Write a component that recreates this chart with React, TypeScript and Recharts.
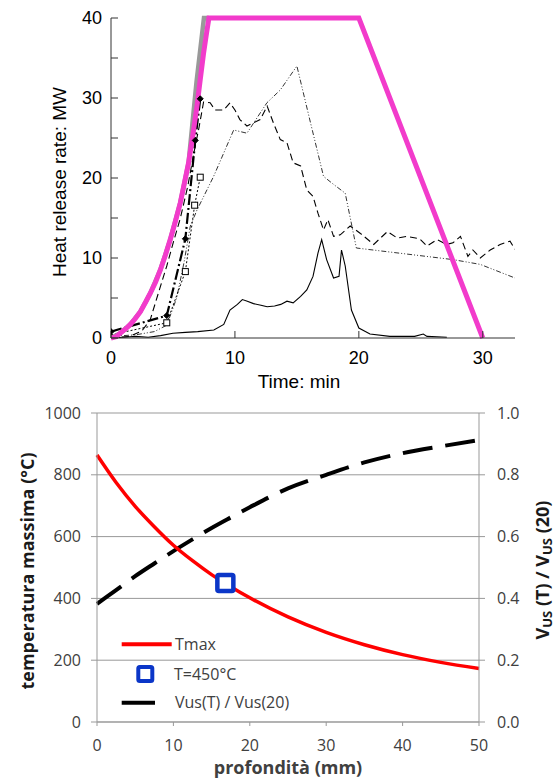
import React from 'react';
import { ComposedChart, LineChart, Line, XAxis, YAxis, CartesianGrid, Scatter, Legend, Label } from 'recharts';

// ---- top panel: heat release rate (MW) vs time (min)
const designTime = [0, 0.4, 0.75, 1.15, 1.56, 1.95, 2.37, 2.8, 3.17, 3.6, 3.98, 4.4, 4.78, 5.2, 5.59, 5.9, 6.26, 6.6, 6.94, 7.2, 7.47, 7.7, 7.9, 20, 30];
const designHrr = [0, 0.15, 0.6, 1.1, 1.7, 2.4, 3.3, 4.5, 5.6, 7, 8.5, 10.4, 12.3, 14.6, 16.9, 19.2, 21.9, 25.3, 29, 32.3, 35.6, 38, 40, 40, 0];

const greyTime = [0, 0.75, 1.56, 2.37, 3.17, 3.98, 4.78, 5.59, 6.26, 6.9, 7.5, 7.9];
const greyHrr = [0, 0.6, 1.7, 3.3, 5.6, 8.5, 12.3, 16.9, 21.9, 32, 40, 40];

const dashedTime = [0, 1.5, 2.5, 3.17, 3.8, 4.5, 5.0, 5.6, 6.2, 6.67, 7.1, 7.47, 8.0, 8.4, 9.1, 9.6, 10.0, 10.4, 10.97, 11.5, 12.04, 12.6, 13.1, 13.66, 14.2, 14.7, 15.3, 15.8, 16.3, 16.7, 17.15, 17.5, 17.96, 18.5, 19.3, 20.1, 21.2, 22.3, 23.1, 23.9, 24.9, 25.5, 26.3, 27.1, 27.6, 28.2, 28.8, 29.2, 29.8, 30.6, 31.4, 32.2, 32.6];
const dashedHrr = [0, 0.2, 0.9, 2.3, 5.5, 9, 11.8, 15, 19, 23, 26.3, 29.5, 29.4, 28.5, 28.5, 29.4, 28.5, 27.3, 26.5, 26.9, 27.3, 29, 26.9, 24.8, 24.4, 21.9, 21.5, 18.5, 17.7, 15.6, 13.5, 14.8, 12.7, 12.9, 14, 13.1, 11.7, 13.3, 12.5, 12.7, 12.4, 11.5, 12.3, 11.7, 11.9, 12.7, 10.2, 11, 10, 11, 11.7, 12.1, 11.1];

const dashDotTime = [0, 2, 3.5, 4.5, 5.3, 5.9, 6.4, 6.94, 8.28, 9.9, 10.97, 12.58, 13.66, 15.0, 16.1, 17.15, 17.96, 18.9, 19.8, 27.6, 29.8, 32.6];
const dashDotHrr = [0.2, 0.4, 0.8, 1.6, 5, 9.5, 14, 16, 20.2, 26, 25.6, 29.4, 31, 34, 26.9, 20.2, 19.2, 18.1, 11.25, 9.8, 9.2, 7.5];

const dotTestTime = [0, 4.5, 6.0, 6.8, 7.2];
const dotTestHrr = [0.8, 2.8, 12.4, 24.7, 29.9];

const squareTestTime = [0, 4.5, 6.0, 6.75, 7.2];
const squareTestHrr = [0.4, 1.9, 8.3, 16.6, 20.1];

const solidTime = [0, 1, 2, 3, 4, 5, 6, 7, 8.3, 9.1, 9.6, 10.2, 10.6, 11.0, 11.5, 12.1, 12.6, 13.2, 13.7, 14.2, 14.7, 15.3, 15.8, 16.3, 16.7, 17.0, 17.4, 17.96, 18.4, 18.6, 18.9, 19.4, 20.0, 20.9, 22.5, 24.5, 25.2, 25.5, 27.1];
const solidHrr = [0, 0.1, 0.2, 0.1, 0.3, 0.6, 0.7, 0.8, 1.0, 1.7, 3.5, 4.2, 4.8, 4.6, 4.3, 4.1, 3.9, 4.0, 4.2, 4.6, 4.4, 5.2, 6.0, 7.7, 10.6, 12.3, 9.8, 7.5, 7.7, 11.0, 9.0, 3.5, 1.25, 0.5, 0.2, 0.2, 0.5, 0.2, 0.1];

const timeTicks = [0, 10, 20, 30];
const hrrTicks = [0, 5, 10, 15, 20, 25, 30, 35, 40];

// ---- bottom panel: max temperature and Vus ratio vs depth
const depth = [0, 2.5, 5, 7.5, 10, 12.5, 15, 17.5, 20, 25, 30, 35, 40, 45, 50];
const tmax = [864, 775, 698, 632, 572, 522, 477, 438, 402, 340, 290, 250, 218, 193, 173];
const vusRatio = [0.382, 0.427, 0.472, 0.513, 0.553, 0.591, 0.628, 0.662, 0.695, 0.756, 0.8, 0.84, 0.87, 0.892, 0.912];
const marker450 = [{ x: 16.8, t: 450 }];

const depthTicks = [0, 10, 20, 30, 40, 50];
const tempTicks = [0, 200, 400, 600, 800, 1000];
const ratioTicks = [0, 0.2, 0.4, 0.6, 0.8, 1.0];

const zip = (xs: number[], ys: number[]) => xs.map((t, i) => ({ t, q: ys[i] }));

const designData = zip(designTime, designHrr);
const greyData = zip(greyTime, greyHrr);
const dashedData = zip(dashedTime, dashedHrr);
const dashDotData = zip(dashDotTime, dashDotHrr);
const dotTestData = zip(dotTestTime, dotTestHrr);
const squareTestData = zip(squareTestTime, squareTestHrr);
const solidData = zip(solidTime, solidHrr);

const bottomData = depth.map((x, i) => ({ x, t: tmax[i], v: vusRatio[i] }));

const ARIAL = '"Liberation Sans", Arial, sans-serif';
const OPEN = '"Open Sans", "Noto Sans", sans-serif';
const MAGENTA = '#F23BCB';
const BLUE = '#0B36C8';

const topTick = { fill: '#000', fontSize: 18, fontFamily: ARIAL };
const bottomTick = { fill: '#404040', fontSize: 16, fontFamily: OPEN };

const FilledDot = (props: any) => {
    const { cx, cy } = props;
    return <path d={`M${cx},${cy - 3} L${cx + 3},${cy} L${cx},${cy + 3} L${cx - 3},${cy} Z`} fill="#000" stroke="#000" strokeWidth={1} />;
};

const OpenSquare = (props: any) => {
    const { cx, cy, index } = props;
    if (index === 0) return <g />;
    return <rect x={cx - 3} y={cy - 3} width={6} height={6} fill="#fff" stroke="#000" strokeWidth={1} />;
};

const BlueSquare = (props: any) => {
    const { cx, cy } = props;
    return <rect x={cx - 8} y={cy - 8} width={16} height={16} rx={1.5} fill="#fff" stroke={BLUE} strokeWidth={4.5} />;
};

function BottomLegend() {
    return (
        <svg width={240} height={90} style={{ overflow: 'visible' }}>
            <line x1={6.7} y1={14.3} x2={56.7} y2={14.3} stroke="#ff0000" strokeWidth={4} />
            <text x={60} y={14.3} dominantBaseline="central" fontFamily={OPEN} fontSize={16} fill="#404040">Tmax</text>
            <rect x={23.3} y={37} width={14} height={14} rx={1.5} fill="#fff" stroke={BLUE} strokeWidth={4} />
            <text x={59} y={43.5} dominantBaseline="central" fontFamily={OPEN} fontSize={16} fill="#404040">T=450°C</text>
            <line x1={6.7} y1={72.7} x2={40} y2={72.7} stroke="#000" strokeWidth={4} />
            <text x={60} y={72} dominantBaseline="central" fontFamily={OPEN} fontSize={16} fill="#404040">Vus(T) / Vus(20)</text>
        </svg>
    );
}

export default function App() {
    return (
        <div style={{ position: 'absolute', left: 0, top: 0, width: 558, height: 778, background: '#fff' }}>
            <LineChart width={558} height={395} margin={{ top: 18, right: 43, left: 0, bottom: 0 }}>
                <XAxis
                    dataKey="t"
                    type="number"
                    domain={[0, 32.6]}
                    allowDataOverflow
                    ticks={timeTicks}
                    height={57}
                    tickSize={-7}
                    tickMargin={20}
                    tick={topTick}
                    stroke="#333"
                >
                    <Label
                        content={() => (
                            <text x={299} y={381} textAnchor="middle" dominantBaseline="central" fontFamily={ARIAL} fontSize={19} fill="#000">
                                Time: min
                            </text>
                        )}
                    />
                </XAxis>
                <YAxis
                    type="number"
                    domain={[0, 40]}
                    ticks={hrrTicks}
                    width={111}
                    tickSize={-7}
                    tickMargin={16}
                    tick={topTick}
                    tickFormatter={(v: number) => (v % 10 === 0 ? String(v) : '')}
                    stroke="#333"
                >
                    <Label
                        content={() => (
                            <text x={59} y={182} transform="rotate(-90 59 182)" textAnchor="middle" dominantBaseline="central" fontFamily={ARIAL} fontSize={19} fill="#000">
                                Heat release rate: MW
                            </text>
                        )}
                    />
                </YAxis>
                <Line data={solidData} dataKey="q" type="linear" stroke="#000" strokeWidth={1.1} dot={false} isAnimationActive={false} />
                <Line data={dashDotData} dataKey="q" type="linear" stroke="#333" strokeWidth={1} strokeDasharray="5 2 1 2 1 2" dot={false} isAnimationActive={false} />
                <Line data={dashedData} dataKey="q" type="linear" stroke="#000" strokeWidth={1.1} strokeDasharray="7 4" dot={false} isAnimationActive={false} />
                <Line data={squareTestData} dataKey="q" type="linear" stroke="#000" strokeWidth={1} strokeDasharray="2 2" dot={<OpenSquare />} isAnimationActive={false} />
                <Line data={dotTestData} dataKey="q" type="linear" stroke="#000" strokeWidth={2.2} strokeDasharray="11 3 2 3" dot={<FilledDot />} isAnimationActive={false} />
                <Line data={greyData} dataKey="q" type="linear" stroke="#999" strokeWidth={4.5} dot={false} isAnimationActive={false} />
                <Line data={designData} dataKey="q" type="linear" stroke={MAGENTA} strokeWidth={5} dot={false} isAnimationActive={false} />
            </LineChart>

            <ComposedChart width={558} height={383} data={bottomData} margin={{ top: 18, right: 0, left: 0, bottom: 0 }}>
                <CartesianGrid yAxisId="left" vertical={false} stroke="#999" />
                <XAxis
                    dataKey="x"
                    type="number"
                    domain={[0, 50]}
                    ticks={depthTicks}
                    height={56}
                    tickSize={4}
                    tickMargin={14}
                    tick={bottomTick}
                    stroke="#999"
                >
                    <Label
                        content={() => (
                            <text x={288} y={372} textAnchor="middle" dominantBaseline="central" fontFamily={OPEN} fontWeight="bold" fontSize={18} fill="#404040">
                                profondità (mm)
                            </text>
                        )}
                    />
                </XAxis>
                <YAxis
                    yAxisId="left"
                    type="number"
                    domain={[0, 1000]}
                    ticks={tempTicks}
                    width={97}
                    tickSize={6}
                    tickMargin={10}
                    tick={bottomTick}
                    stroke="#999"
                >
                    <Label
                        content={() => (
                            <text x={27} y={176} transform="rotate(-90 27 176)" textAnchor="middle" dominantBaseline="central" fontFamily={OPEN} fontWeight="bold" fontSize={18} fill="#1a1a1a">
                                temperatura massima (°C)
                            </text>
                        )}
                    />
                </YAxis>
                <YAxis
                    yAxisId="right"
                    orientation="right"
                    type="number"
                    domain={[0, 1]}
                    ticks={ratioTicks}
                    width={79}
                    tickSize={6}
                    tickMargin={12}
                    tick={bottomTick}
                    tickFormatter={(v: number) => v.toFixed(1)}
                    stroke="#999"
                >
                    <Label
                        content={() => (
                            <text x={542} y={175} transform="rotate(-90 542 175)" textAnchor="middle" dominantBaseline="central" fontFamily={OPEN} fontWeight="bold" fontSize={18} fill="#1a1a1a">
                                <tspan>V</tspan>
                                <tspan dy={5} fontSize={13}>US</tspan>
                                <tspan dy={-5}> (T) / V</tspan>
                                <tspan dy={5} fontSize={13}>US</tspan>
                                <tspan dy={-5}> (20)</tspan>
                            </text>
                        )}
                    />
                </YAxis>
                <Line yAxisId="right" dataKey="v" type="monotone" stroke="#000" strokeWidth={4} strokeDasharray="30 13" dot={false} isAnimationActive={false} />
                <Line yAxisId="left" dataKey="t" type="monotone" stroke="#ff0000" strokeWidth={3.5} dot={false} isAnimationActive={false} />
                <Scatter yAxisId="left" data={marker450} dataKey="t" shape={<BlueSquare />} isAnimationActive={false} />
                <Legend
                    layout="vertical"
                    align="center"
                    verticalAlign="middle"
                    wrapperStyle={{ left: 115, top: 235, width: 240, height: 90 }}
                    content={() => <BottomLegend />}
                />
            </ComposedChart>
        </div>
    );
}
